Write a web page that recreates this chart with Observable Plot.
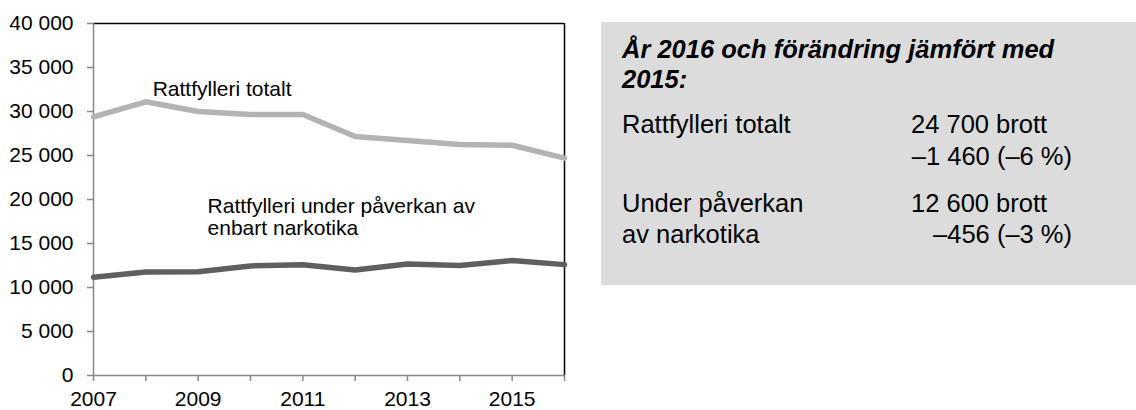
<!DOCTYPE html>
<html>
<head>
<meta charset="utf-8">
<script src="https://cdn.jsdelivr.net/npm/d3@7"></script>
<script src="https://cdn.jsdelivr.net/npm/@observablehq/plot@0.6"></script>
<style>
  body { margin: 0; background: #fff; }
  #wrap { position: relative; width: 1136px; height: 410px; overflow: hidden; font-family: "Liberation Sans", Arial, sans-serif; }
  #chart { position: absolute; left: 0; top: 0; }
  #box { position: absolute; left: 590px; top: 0; }
</style>
</head>
<body>
<div id="wrap"><div id="chart"></div><svg id="box" width="546" height="410"></svg></div>
<script>
const years = [2007, 2008, 2009, 2010, 2011, 2012, 2013, 2014, 2015, 2016];
const totalt = [29400, 31100, 30000, 29650, 29650, 27150, 26700, 26250, 26160, 24700];
const narkotika = [11170, 11750, 11800, 12450, 12580, 12000, 12680, 12500, 13056, 12600];
const yTicks = [0, 5000, 10000, 15000, 20000, 25000, 30000, 35000, 40000];
const lineLabels = [
  {year: 2008.13, value: 33500, text: "Rattfylleri totalt"},
  {year: 2009.18, value: 20250, text: "Rattfylleri under påverkan av\nenbart narkotika"}
];
const boxTitle = ["År 2016 och förändring jämfört med", "2015:"];
const boxRows = [
  {label: ["Rattfylleri totalt"], value: "24 700 brott", change: "–1 460 (–6 %)"},
  {label: ["Under påverkan", "av narkotika"], value: "12 600 brott", change: "–456 (–3 %)"}
];

const dataT = years.map((y, i) => ({year: y, value: totalt[i]}));
const dataN = years.map((y, i) => ({year: y, value: narkotika[i]}));
const fmt = d => d3.format(",")(d).replace(/,/g, " ");

const chart = Plot.plot({
  width: 590,
  height: 410,
  marginLeft: 93,
  marginRight: 26,
  marginTop: 23,
  marginBottom: 35,
  style: {fontFamily: "'Liberation Sans', Arial, sans-serif", fontSize: "21px", color: "#000", background: "#fff", overflow: "visible"},
  x: {domain: [2007, 2016]},
  y: {domain: [0, 40000]},
  marks: [
    Plot.ruleY([40000], {stroke: "#000", strokeWidth: 1.5}),
    Plot.ruleX([2016], {stroke: "#000", strokeWidth: 1.5}),
    Plot.ruleX([2007], {stroke: "#888", strokeWidth: 1.5}),
    Plot.ruleY([0], {stroke: "#888", strokeWidth: 1.5}),
    Plot.axisY({ticks: yTicks, tickFormat: fmt, tickSize: 6, tickPadding: 14, stroke: "#888", strokeWidth: 1.5, label: null, fill: "#000", fontSize: 21}),
    Plot.axisX({ticks: years, tickFormat: d => (d % 2 === 1 ? String(d) : ""), tickSize: 6, tickPadding: 10, stroke: "#888", strokeWidth: 1.5, label: null, fill: "#000", fontSize: 21}),
    Plot.line(dataT, {x: "year", y: "value", stroke: "#b3b3b3", strokeWidth: 5.5}),
    Plot.line(dataN, {x: "year", y: "value", stroke: "#5f5f5f", strokeWidth: 5.5}),
    Plot.text(lineLabels, {x: "year", y: "value", text: "text", textAnchor: "start", lineAnchor: "top", lineHeight: 1.05, fontSize: 21, fill: "#000"})
  ]
});
document.getElementById("chart").appendChild(chart);

// Info box
const svg = d3.select("#box");
const ff = "'Liberation Sans', Arial, sans-serif";
const fs = 25.5;
svg.append("rect").attr("x", 11).attr("y", 22).attr("width", 535).attr("height", 263).attr("fill", "#dcdcdc");
const titleY = [58, 88];
boxTitle.forEach((t, i) => {
  svg.append("text").attr("x", 32).attr("y", titleY[i]).attr("font-family", ff).attr("font-size", fs)
    .attr("font-weight", "bold").attr("font-style", "italic").attr("fill", "#000").text(t);
});
const rowY = [[133, 165], [212, 243]];
boxRows.forEach((r, i) => {
  r.label.forEach((l, j) => {
    svg.append("text").attr("x", 32).attr("y", rowY[i][j]).attr("font-family", ff).attr("font-size", fs).attr("fill", "#000").text(l);
  });
  svg.append("text").attr("x", 321).attr("y", rowY[i][0]).attr("font-family", ff).attr("font-size", fs).attr("fill", "#000").text(r.value);
  svg.append("text").attr("x", 482).attr("y", rowY[i][1]).attr("text-anchor", "end").attr("font-family", ff).attr("font-size", fs).attr("fill", "#000").text(r.change);
});
</script>
</body>
</html>
